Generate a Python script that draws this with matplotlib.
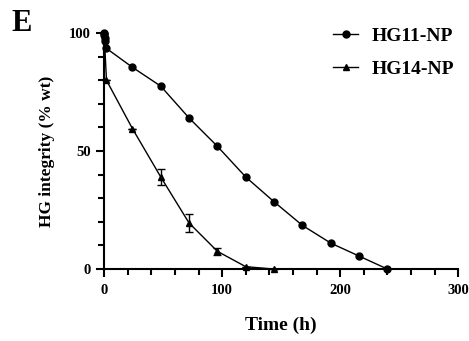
import matplotlib.pyplot as plt
from matplotlib.lines import Line2D
from matplotlib.ticker import MultipleLocator

plt.rcParams['font.family'] = ['Liberation Serif']
plt.rcParams['font.weight'] = 'bold'

# HG11-NP
t11 = [0, 0.25, 0.5, 1, 2, 24, 48, 72, 96, 120, 144, 168, 192, 216, 240]
y11 = [100, 99, 98, 96.5, 93.5, 85.5, 77.5, 64, 52, 39, 28.5, 18.5, 11, 5.5, 0]

# HG14-NP
t14 = [0, 2, 24, 48, 72, 96, 120, 144]
y14 = [100, 80, 59.5, 39, 19.5, 7.5, 1, 0]
e14 = [0, 0, 0, 3.2, 3.8, 1.5, 0, 0]

fig = plt.figure(figsize=(4.69, 3.41), dpi=100)
ax = fig.add_axes([0.222, 0.211, 0.755, 0.692])

ax.plot(t11, y11, '-o', color='black', lw=1, ms=5, clip_on=False)
ax.errorbar(t14, y14, yerr=e14, fmt='-^', color='black', lw=1, ms=5,
            capsize=3, elinewidth=1, clip_on=False)

ax.set_xlim(0, 300)
ax.set_ylim(0, 100)
ax.xaxis.set_major_locator(MultipleLocator(100))
ax.xaxis.set_minor_locator(MultipleLocator(20))
ax.yaxis.set_major_locator(MultipleLocator(50))
ax.yaxis.set_minor_locator(MultipleLocator(10))
ax.tick_params(which='both', direction='out', width=1.5, labelsize=10.5)
ax.tick_params(which='major', length=6)
ax.tick_params(which='minor', length=4)
ax.tick_params(axis='x', pad=5)
for s in ['top', 'right']:
    ax.spines[s].set_visible(False)
for s in ['left', 'bottom']:
    ax.spines[s].set_linewidth(1.5)

ax.set_xlabel('Time (h)', fontsize=14, fontweight='bold', labelpad=14)
ax.set_ylabel('HG integrity (% wt)', fontsize=12.5, fontweight='bold', labelpad=10)

handles = [Line2D([], [], color='black', lw=1, marker='o', ms=5),
           Line2D([], [], color='black', lw=1, marker='^', ms=5)]
fig.legend(handles, ['HG11-NP', 'HG14-NP'], loc='upper left',
           bbox_to_anchor=(0.71, 0.92), frameon=False, borderpad=0,
           borderaxespad=0, prop={'size': 14, 'weight': 'bold'},
           handlelength=1.3, handletextpad=0.7, labelspacing=0.8)

fig.text(0.025, 0.975, 'E', fontsize=22, fontweight='bold', va='top')

fig.savefig('out.png', dpi=100)
